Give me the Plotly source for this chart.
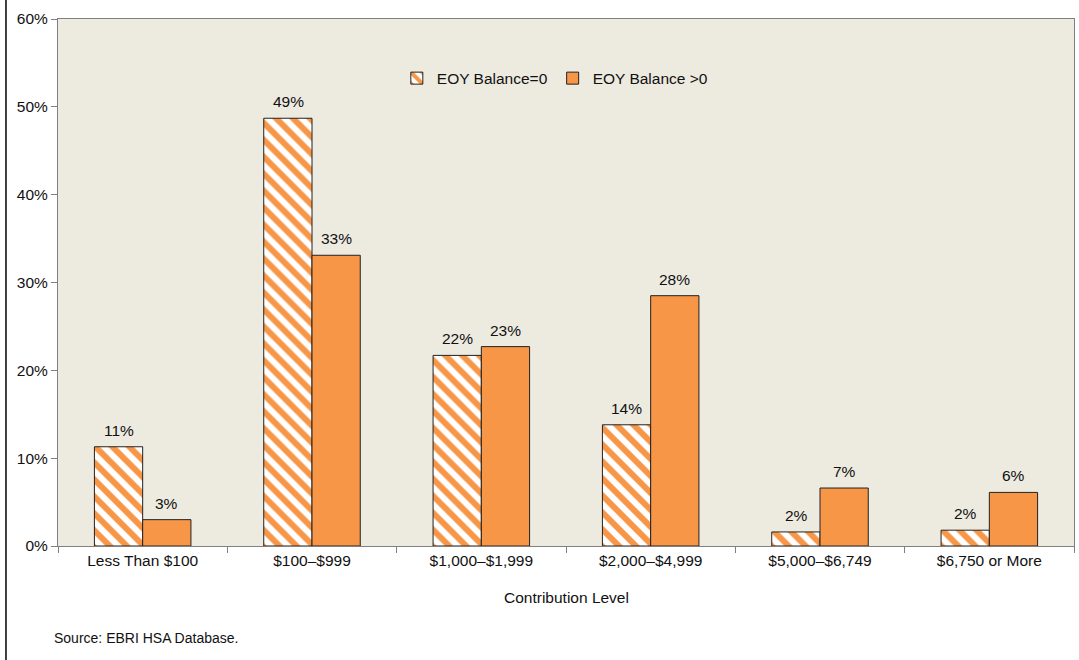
import plotly.graph_objects as go

categories = ["Less Than $100", "$100\u2013$999", "$1,000\u2013$1,999",
              "$2,000\u2013$4,999", "$5,000\u2013$6,749", "$6,750 or More"]
balance_zero = [11.3, 48.7, 21.7, 13.8, 1.6, 1.8]
balance_pos = [3.0, 33.1, 22.7, 28.5, 6.6, 6.1]

ORANGE = "#F79646"
FONT = "Liberation Sans, Arial, sans-serif"
BAR_HALF = 24  # px offset of each bar centre from the category centre

fig = go.Figure()
fig.add_trace(go.Bar(
    x=categories, y=balance_zero, name="EOY Balance=0",
    marker=dict(color="white", line=dict(color="#222222", width=1),
                pattern=dict(shape="\\", fgcolor=ORANGE, bgcolor="white",
                             fgopacity=1, size=12, solidity=0.5)),
))
fig.add_trace(go.Bar(
    x=categories, y=balance_pos, name="EOY Balance >0",
    marker=dict(color=ORANGE, line=dict(color="#222222", width=1)),
))

# value labels
labels = []
for vals, shift in ((balance_zero, -BAR_HALF), (balance_pos, BAR_HALF)):
    for cat, v in zip(categories, vals):
        labels.append(dict(x=cat, y=v, xref="x", yref="y", text=f"{round(v)}%",
                           showarrow=False, xshift=shift, yshift=6,
                           yanchor="bottom", font=dict(size=15.5)))

labels += [
    dict(text="Contribution Level", xref="paper", yref="paper",
         x=0.5, y=-0.097, xanchor="center", yanchor="middle",
         showarrow=False, font=dict(size=15.5)),
    dict(text="Source: EBRI HSA Database.", xref="paper", yref="paper",
         x=-0.006, y=-0.1746, xanchor="left", yanchor="middle",
         showarrow=False, font=dict(size=14)),
]

fig.update_layout(
    width=1079, height=660,
    barmode="group", bargap=0.43, bargroupgap=0,
    paper_bgcolor="white", plot_bgcolor="#EDEAE0",
    font=dict(family=FONT, size=15.5, color="#111111"),
    margin=dict(l=58, r=5, t=19, b=114, autoexpand=False),
    legend=dict(orientation="h", x=0.489, y=0.887, xanchor="center",
                yanchor="middle", bgcolor="rgba(0,0,0,0)",
                font=dict(size=15.5), itemwidth=30),
    showlegend=True,
    annotations=labels,
    shapes=[dict(type="line", xref="paper", yref="paper", x0=-0.0512, x1=-0.0512,
                 y0=-0.22, y1=1.04, line=dict(color="black", width=1.5))],
)
fig.update_xaxes(
    automargin=False,
    showline=True, linecolor="#808080", mirror=True,
    ticks="outside", ticklen=6, tickcolor="#808080", tickson="boundaries",
    showgrid=False,
)
fig.update_yaxes(
    automargin=False,
    range=[0, 60], dtick=10, ticksuffix="%",
    showline=True, linecolor="#808080", mirror=True,
    ticks="outside", ticklen=6, tickcolor="#808080",
    showgrid=False, zeroline=False,
)

fig.write_html("out.html", config={"displayModeBar": False},
               post_script="document.body.style.margin='0';")
